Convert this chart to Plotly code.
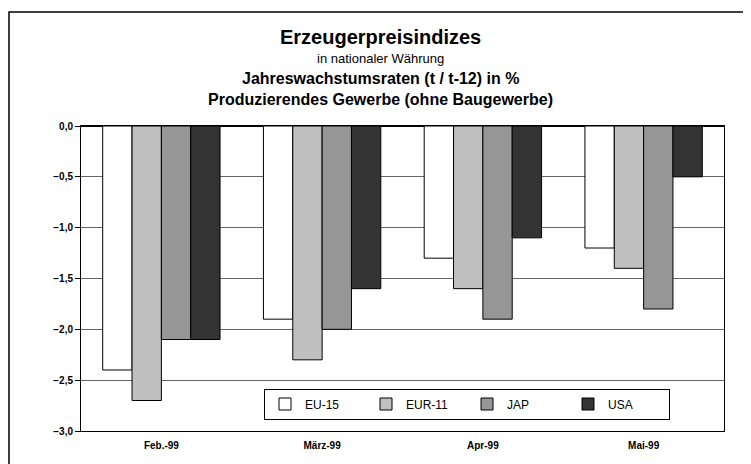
import plotly.graph_objects as go

categories = ["Feb.-99", "März-99", "Apr-99", "Mai-99"]
series_names = ["EU-15", "EUR-11", "JAP", "USA"]
eu15 = [-2.4, -1.9, -1.3, -1.2]
eur11 = [-2.7, -2.3, -1.6, -1.4]
jap = [-2.1, -2.0, -1.9, -1.8]
usa = [-2.1, -1.6, -1.1, -0.5]
y_ticks = [0, -0.5, -1.0, -1.5, -2.0, -2.5, -3.0]

colors = ["#ffffff", "#c0c0c0", "#969696", "#333333"]
values = [eu15, eur11, jap, usa]

FONT = "Liberation Sans, Arial, sans-serif"

# page has an 8px body margin; work in reference pixel coords and subtract it
OFF = 8
W, H = 751 - OFF, 464 - OFF
L, T, R, B = 81, 126, 724, 431  # plot area in reference coords

fig = go.Figure()
for name, vals, col in zip(series_names, values, colors):
    fig.add_trace(go.Bar(
        x=categories, y=vals, name=name,
        marker=dict(color=col, line=dict(color="#000000", width=1)),
    ))

fig.update_layout(
    width=W, height=H,
    margin=dict(l=L - OFF, r=(W + OFF) - R, t=T - OFF, b=(H + OFF) - B, autoexpand=False),
    paper_bgcolor="white", plot_bgcolor="white",
    barmode="group", bargap=0.27, bargroupgap=0,
    separators=",.",
    font=dict(family=FONT, color="#000000"),
    showlegend=True,
    legend=dict(
        orientation="h", x=(467 - L) / (R - L), y=1 - (404 - T) / (B - T),
        xanchor="center", yanchor="middle",
        bgcolor="white", bordercolor="#000000", borderwidth=1,
        font=dict(size=12, family=FONT), itemwidth=30, entrywidth=56,
        traceorder="normal",
    ),
    xaxis=dict(
        showline=True, linecolor="#000000", linewidth=1, mirror=True,
        tickfont=dict(size=10, family=FONT, weight="bold"),
        ticks="", showgrid=False, ticklabelstandoff=5,
    ),
    yaxis=dict(
        range=[-3, 0], tickvals=y_ticks, tickformat=".1f",
        showline=True, linecolor="#000000", linewidth=1, mirror=True,
        ticks="outside", ticklen=5, tickcolor="#000000",
        showgrid=True, gridcolor="#666666", gridwidth=1,
        zeroline=True, zerolinecolor="#000000", zerolinewidth=1,
        tickfont=dict(size=10, family=FONT, weight="bold"),
    ),
)

pw = R - L
ph = B - T


def px2paper(x, y):
    return (x - L) / pw, 1 + (T - y) / ph


titles = [
    ("<b>Erzeugerpreisindizes</b>", 380, 37, 20),
    ("in nationaler Währung", 380, 58, 13),
    ("<b>Jahreswachstumsraten (t / t-12) in %</b>", 380, 79, 16),
    ("<b>Produzierendes Gewerbe (ohne Baugewerbe)</b>", 380, 100, 16),
]
for text, x, y, size in titles:
    ax, ay = px2paper(x, y)
    fig.add_annotation(text=text, x=ax, y=ay, xref="paper", yref="paper",
                       xanchor="center", yanchor="middle", showarrow=False,
                       font=dict(size=size, family=FONT))

# outer chart border
x0, y1 = px2paper(9, 12)
x1, y0 = px2paper(780, 480)
fig.add_shape(type="rect", xref="paper", yref="paper", x0=x0, x1=x1, y0=y0, y1=y1,
              line=dict(color="#000000", width=1.5), fillcolor="rgba(0,0,0,0)", layer="below")

fig.write_html("out.html")
